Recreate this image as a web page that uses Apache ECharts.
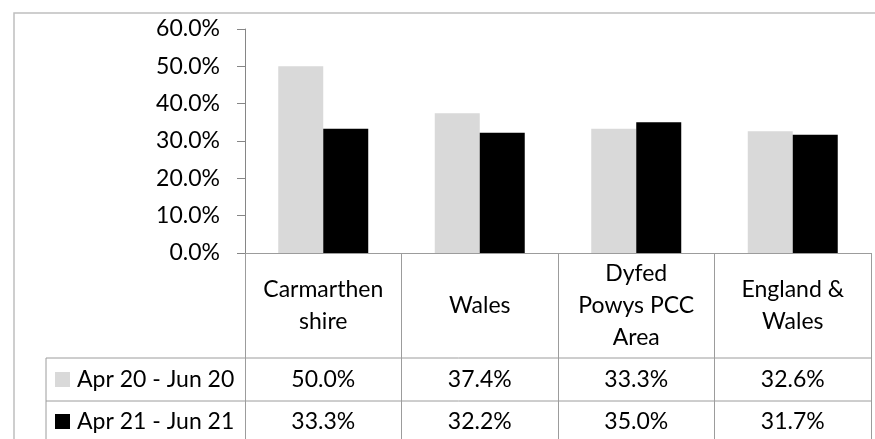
<!DOCTYPE html>
<html>
<head>
<meta charset="utf-8">
<script src="https://cdn.jsdelivr.net/npm/echarts@6/dist/echarts.min.js"></script>
<style>
  html, body { margin: 0; padding: 0; background: #fff; }
  #chart { width: 875px; height: 439px; }
</style>
</head>
<body>
<div id="chart"></div>
<script>
// categories and series (values in %)
const categories = ['Carmarthen\nshire', 'Wales', 'Dyfed\nPowys PCC\nArea', 'England &\nWales'];
const seriesNames = ['Apr 20 - Jun 20', 'Apr 21 - Jun 21'];
const apr20 = [50.0, 37.4, 33.3, 32.6];
const apr21 = [33.3, 32.2, 35.0, 31.7];
const yTicks = [0, 10, 20, 30, 40, 50, 60];

const FONT = 'Lato';
const FS = 23;
const lineCol = '#9c9c9c';

// layout
const gridL = 245, gridR = 4, gridT = 29, axisY = 253, H = 439, W = 875;
const row1 = 358, row2 = 401, keyLeft = 46;

const fmt = v => v.toFixed(1) + '%';

const valueAxis = (vals, margin) => ({
    type: 'category',
    data: categories,
    position: 'bottom',
    axisLine: { show: false },
    axisTick: { show: false },
    axisLabel: {
        interval: 0,
        margin: margin,
        verticalAlign: 'middle',
        fontFamily: FONT, fontSize: FS, color: '#000',
        formatter: (v, i) => fmt(vals[i])
    }
});

let myChart = echarts.init(document.getElementById('chart'), null, { renderer: 'canvas' });
myChart.setOption({
    animation: false,
    backgroundColor: '#fff',
    grid: { left: gridL, right: gridR, top: gridT, bottom: H - axisY, containLabel: false, outerBoundsMode: 'none' },
    legend: {
        orient: 'vertical',
        left: 55,
        top: 365.5,
        padding: 0,
        itemGap: 14,
        itemWidth: 15,
        itemHeight: 15,
        icon: 'rect',
        selectedMode: false,
        data: seriesNames,
        textStyle: { fontFamily: FONT, fontSize: FS, color: '#000', lineHeight: 28, padding: [0, 0, 0, 2] }
    },
    xAxis: [
        {
            type: 'category',
            data: categories,
            axisLine: { show: true, lineStyle: { color: lineCol, width: 1 } },
            axisTick: { show: true, interval: 0, length: H - axisY, lineStyle: { color: lineCol, width: 1 } },
            axisLabel: {
                interval: 0,
                margin: 52.5,
                verticalAlign: 'middle',
                lineHeight: 32,
                fontFamily: FONT, fontSize: FS, color: '#000'
            }
        },
        valueAxis(apr20, row1 + (row2 - row1) / 2 - axisY + 0.5),
        valueAxis(apr21, 421.5 - axisY)
    ],
    yAxis: {
        type: 'value',
        min: yTicks[0],
        max: yTicks[yTicks.length - 1],
        interval: 10,
        axisLine: { show: true, lineStyle: { color: '#868686' } },
        axisTick: { show: true, length: 8, lineStyle: { color: '#868686' } },
        splitLine: { show: false },
        axisLabel: {
            margin: 25,
            fontFamily: FONT, fontSize: FS, color: '#000',
            formatter: v => fmt(v)
        }
    },
    series: [
        {
            name: seriesNames[0],
            type: 'bar',
            data: apr20,
            barGap: '0%',
            barCategoryGap: '42.5%',
            itemStyle: { color: '#d9d9d9' }
        },
        {
            name: seriesNames[1],
            type: 'bar',
            data: apr21,
            itemStyle: { color: '#000' }
        }
    ],
    graphic: [
        // outer chart border (left + top)
        { type: 'polyline', silent: true, shape: { points: [[14, H], [14, 13], [W, 13]] },
          style: { fill: null, stroke: '#bfbfbf', lineWidth: 1.5 } },
        // data table rows
        { type: 'line', silent: true, shape: { x1: keyLeft, y1: row1, x2: W - gridR, y2: row1 },
          style: { stroke: lineCol, lineWidth: 1 } },
        { type: 'line', silent: true, shape: { x1: keyLeft, y1: row2, x2: W - gridR, y2: row2 },
          style: { stroke: lineCol, lineWidth: 1 } },
        { type: 'line', silent: true, shape: { x1: keyLeft, y1: row1, x2: keyLeft, y2: H },
          style: { stroke: lineCol, lineWidth: 1 } }
    ]
});
window.addEventListener('resize', () => {
    myChart.resize();
});
</script>
</body>
</html>
